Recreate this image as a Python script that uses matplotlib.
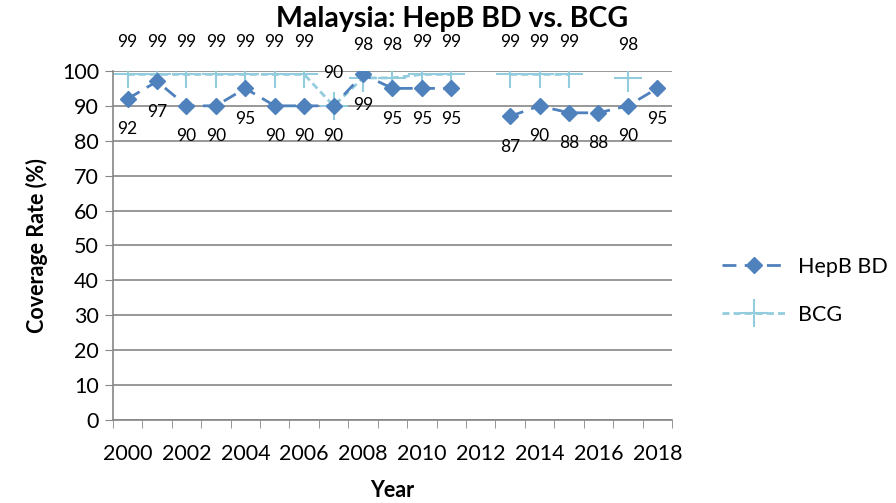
import numpy as np
import matplotlib
matplotlib.use('Agg')
import matplotlib.pyplot as plt

plt.rcParams['font.family'] = ['Lato', 'DejaVu Sans']

# Coverage data (NaN = no value reported)
years = list(range(2000, 2019))
hepb_bd = [92, 97, 90, 90, 95, 90, 90, 90, 99, 95, 95, 95, np.nan,
           87, 90, 88, 88, 90, 95]
bcg = [99, 99, 99, 99, 99, 99, 99, 90, 98, 98, 99, 99, np.nan,
       99, 99, 99, np.nan, 98, np.nan]
year_labels = [str(y) if (y - 2000) % 2 == 0 else '' for y in years]

hepb_color = '#4f81bd'
bcg_color = '#93cddd'
grid_color = '#868686'

fig = plt.figure(figsize=(8.96, 5.03), dpi=100, facecolor='white')
ax = fig.add_axes([0.126, 0.165, 0.624, 0.694])

x = np.arange(len(years))

ax.plot(x, hepb_bd, color=hepb_color, linestyle=(0, (5, 3)), linewidth=2,
        marker='D', markersize=8.5, markerfacecolor=hepb_color,
        markeredgecolor=hepb_color, label='HepB BD', zorder=4)
ax.plot(x, bcg, color=bcg_color, linestyle=(0, (2.5, 1.5)), linewidth=2,
        marker='+', markersize=20, markeredgewidth=1.5,
        label='BCG', zorder=3)

# data labels: HepB below, BCG above
for xi, v in zip(x, hepb_bd):
    if not np.isnan(v):
        ax.annotate(f"{v:.0f}", (xi, v), xytext=(0, -22), textcoords='offset points',
                    ha='center', va='center', fontsize=12.5, color='black')
for xi, v in zip(x, bcg):
    if not np.isnan(v):
        ax.annotate(f"{v:.0f}", (xi, v), xytext=(0, 23.5), textcoords='offset points',
                    ha='center', va='center', fontsize=12.5, color='black')

ax.set_xlim(-0.5, len(years) - 0.5)
ax.set_ylim(0, 100)
ax.set_yticks(np.arange(0, 101, 10))
ax.set_xticks(x)
ax.set_xticklabels(year_labels)
ax.set_xticks(np.arange(-0.5, len(years), 1), minor=True)
ax.tick_params(axis='x', which='major', length=0, pad=17, labelsize=15.5)
ax.tick_params(axis='x', which='minor', length=6, color=grid_color, direction='out')
ax.tick_params(axis='y', length=6, color=grid_color, direction='out', labelsize=15.5, pad=4)

ax.yaxis.grid(True, color=grid_color, linewidth=1.2)
ax.set_axisbelow(True)
for s in ['top', 'right']:
    ax.spines[s].set_visible(False)
for s in ['left', 'bottom']:
    ax.spines[s].set_color(grid_color)
    ax.spines[s].set_linewidth(1.2)

ax.set_ylabel('Coverage Rate (%)', fontsize=15.5, fontweight='bold', labelpad=10)
ax.set_xlabel('Year', fontsize=15.5, fontweight='bold', labelpad=12)
fig.text(0.505, 0.962, 'Malaysia: HepB BD vs. BCG', ha='center', va='center',
         fontsize=20.5, fontweight='bold')

ax.legend(loc='center left', bbox_to_anchor=(1.09, 0.37), frameon=False,
          fontsize=15.5, handlelength=2.9, handletextpad=0.6,
          labelspacing=1.3, borderpad=0, borderaxespad=0)

fig.savefig('out.png', dpi=100, facecolor='white')
